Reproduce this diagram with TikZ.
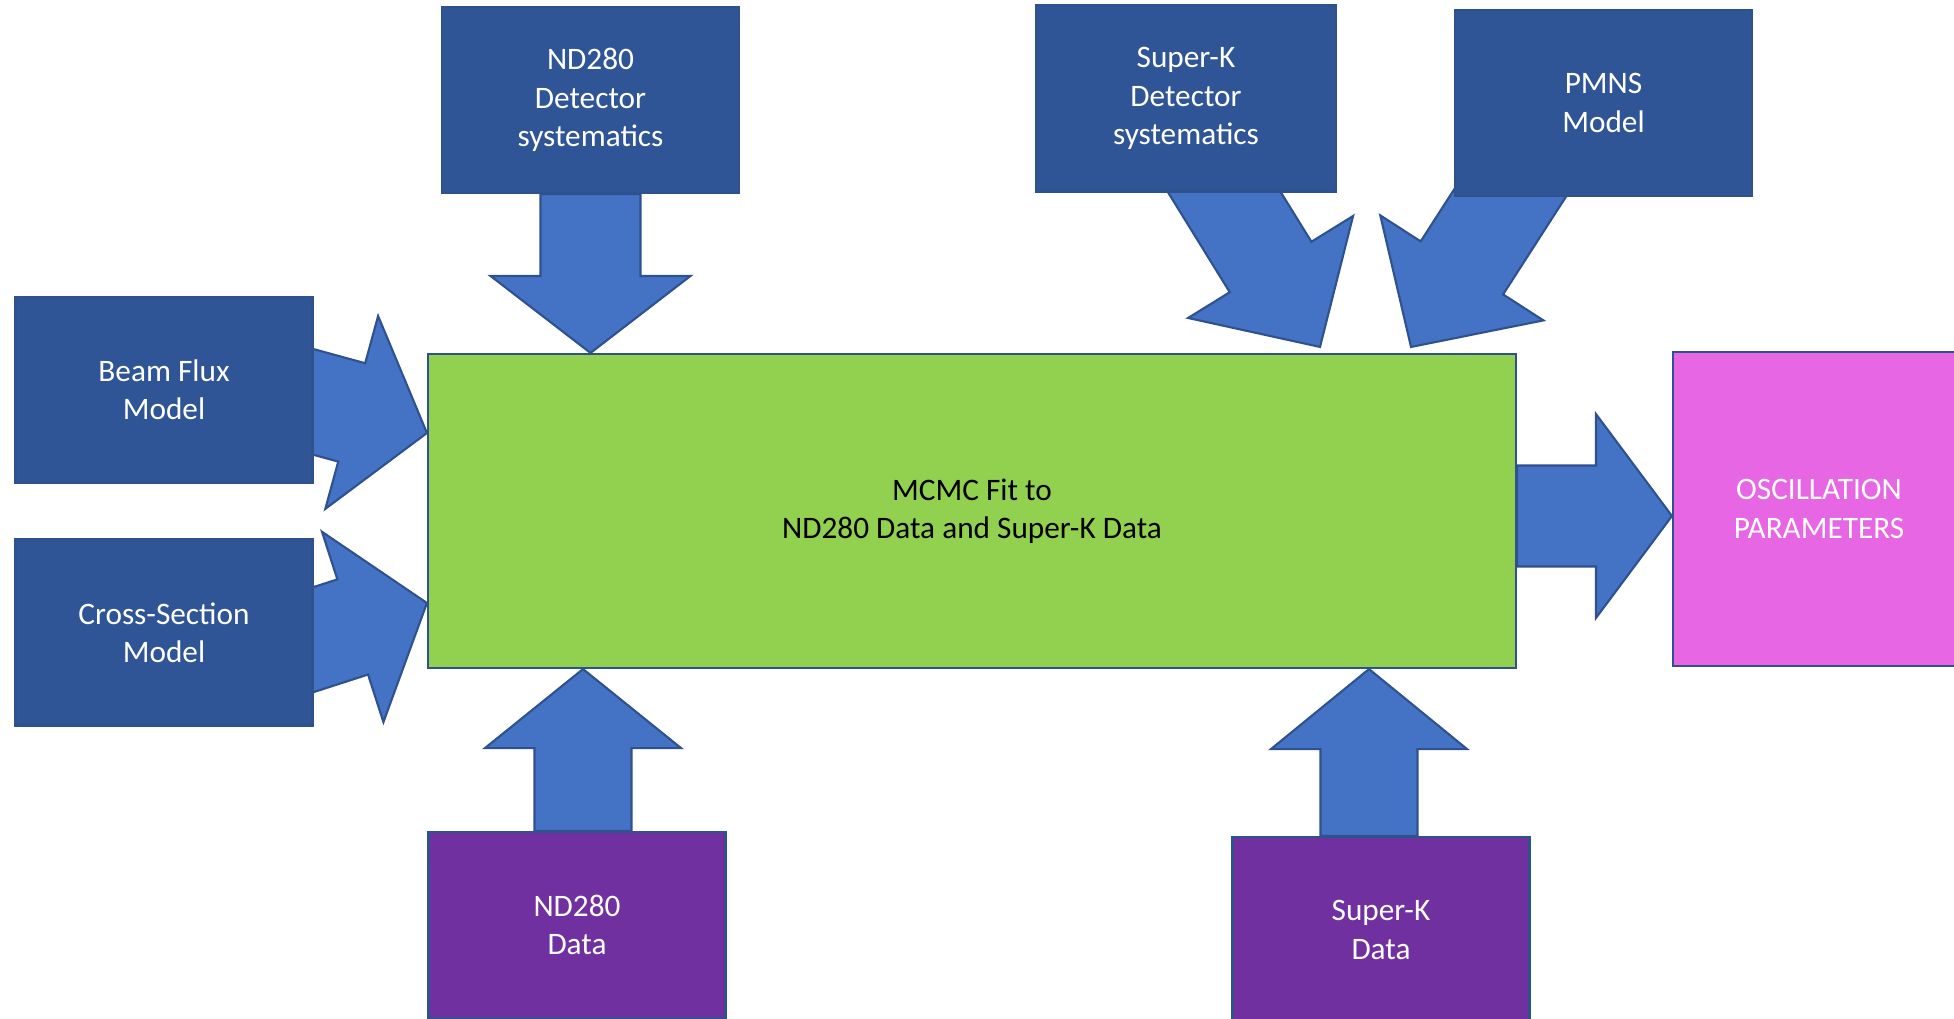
\documentclass[tikz,border=0pt]{standalone}
\usepackage{fontspec}
\setmainfont{Carlito}
\usetikzlibrary{calc, backgrounds}

\definecolor{boxblue}{HTML}{2F5597}
\definecolor{arrowblue}{HTML}{4472C4}
\definecolor{edgeblue}{HTML}{2F528F}
\definecolor{fitgreen}{HTML}{92D050}
\definecolor{datapurple}{HTML}{7030A0}
\definecolor{oscpink}{HTML}{E766E4}

\newcommand{\diagfont}{\fontsize{8.9}{10.9}\selectfont}

\tikzset{
    head len/.store in=\arrowheadlen, head len=7.8mm,
    head half/.store in=\arrowheadhalf, head half=10mm,
    shaft half/.store in=\arrowshafthalf, shaft half=5mm
}

\begin{document}
\begin{tikzpicture}[
    input/.style={draw=edgeblue, line width=0.6pt, fill=boxblue, minimum width=2.97cm, minimum height=1.86cm, inner sep=0pt, align=center, text=white, font=\diagfont},
    data/.style={input, fill=datapurple},
    fitbox/.style={input, fill=fitgreen, text=black, minimum width=10.88cm, minimum height=3.14cm},
    result/.style={input, fill=oscpink, minimum width=2.92cm, minimum height=3.14cm},
    blockarrow/.style={draw=edgeblue, line width=0.6pt, fill=arrowblue, line join=miter,
        to path={
            ($(\tikztostart)!\arrowshafthalf!90:(\tikztotarget)$)
            -- ($(\tikztotarget)!\arrowheadlen!(\tikztostart)!\arrowshafthalf!90:(\tikztotarget)$)
            -- ($(\tikztotarget)!\arrowheadlen!(\tikztostart)!\arrowheadhalf!90:(\tikztotarget)$)
            -- (\tikztotarget)
            -- ($(\tikztotarget)!\arrowheadlen!(\tikztostart)!\arrowheadhalf!-90:(\tikztotarget)$)
            -- ($(\tikztotarget)!\arrowheadlen!(\tikztostart)!\arrowshafthalf!-90:(\tikztotarget)$)
            -- ($(\tikztostart)!\arrowshafthalf!-90:(\tikztotarget)$)
            -- cycle
        }}
]

\useasboundingbox (0,0) rectangle (19.54,10.18);

% Systematics and models (top)
\node[input] (nddet) at (5.905, 9.18) {ND280\\Detector\\systematics};
\node[input, minimum width=3cm] (skdet) at (11.86, 9.195) {Super-K\\Detector\\systematics};
\node[input] (pmns) at (16.035, 9.15) {PMNS\\Model};

% Models (left)
\node[input] (beam) at (1.64, 6.28) {Beam Flux\\Model};
\node[input] (xsec) at (1.64, 3.855) {Cross-Section\\Model};

% Fit and result
\node[fitbox] (fit) at (9.72, 5.07) {MCMC Fit to\\ND280 Data and Super-K Data};
\node[result] (osc) at (18.19, 5.09) {OSCILLATION\\PARAMETERS};

% Data (bottom)
\node[data] (nddata) at (5.77, 0.93) {ND280\\Data};
\node[data] (skdata) at (13.81, 0.88) {Super-K\\Data};

% Block arrows, behind the boxes
\begin{scope}[on background layer]
\coordinate (nddettip) at (nddet.south |- fit.north);
\draw[blockarrow, head len=7.7mm] (nddet.south) to (nddettip);

\coordinate (skdettail) at ([xshift=1.2mm, yshift=4.3mm]skdet.south);
\coordinate (skdettip) at ([xshift=34.8mm, yshift=0.6mm]fit.north);
\draw[blockarrow, head len=9.4mm, head half=9.7mm, shaft half=4.8mm] (skdettail) to (skdettip);

\coordinate (pmnstail) at ([xshift=-6.9mm, yshift=4.2mm]pmns.south);
\coordinate (pmnstip) at ([xshift=43.9mm, yshift=0.6mm]fit.north);
\draw[blockarrow, head len=9.4mm, head half=9.7mm, shaft half=4.9mm] (pmnstail) to (pmnstip);

\coordinate (beamtail) at ([xshift=-4mm, yshift=-0.1mm]beam.east);
\coordinate (beamtip) at ([yshift=7.8mm]fit.west);
\draw[blockarrow, shaft half=5.1mm] (beamtail) to (beamtip);

\coordinate (xsectail) at ([xshift=-4mm, yshift=-2mm]xsec.east);
\coordinate (xsectip) at ([yshift=-9.2mm]fit.west);
\draw[blockarrow] (xsectail) to (xsectip);

\coordinate (nddatatail) at ([xshift=0.6mm]nddata.north);
\coordinate (nddatatip) at (nddatatail |- fit.south);
\draw[blockarrow, head len=7.9mm, head half=9.8mm, shaft half=4.85mm] (nddatatail) to (nddatatip);

\coordinate (skdatatail) at ([xshift=-1.2mm]skdata.north);
\coordinate (skdatatip) at (skdatatail |- fit.south);
\draw[blockarrow, head len=8mm, head half=9.8mm, shaft half=4.85mm] (skdatatail) to (skdatatip);

\coordinate (outtail) at ([yshift=-0.5mm]fit.east);
\coordinate (outtip) at (outtail -| osc.west);
\draw[blockarrow, head len=7.6mm, head half=10.2mm, shaft half=5.05mm] (outtail) to (outtip);
\end{scope}

\end{tikzpicture}
\end{document}
